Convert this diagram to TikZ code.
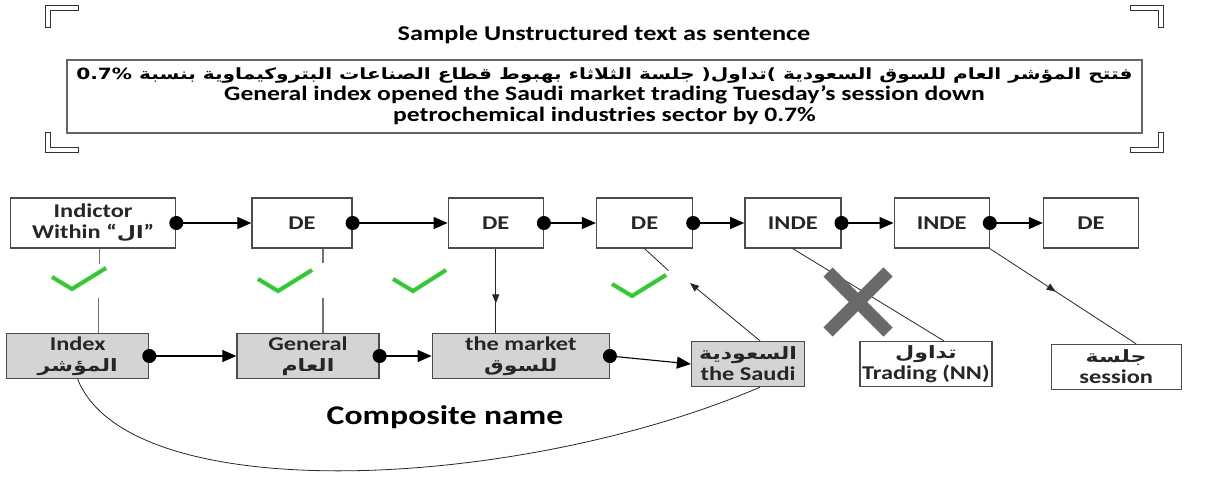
\documentclass[tikz,border=0pt]{standalone}
\usepackage{fontspec}
\setmainfont[FakeStretch=1.25]{Carlito}
\newfontfamily\arabicfont[Script=Arabic, FakeStretch=1.3]{DejaVu Sans}
\TeXXeTstate=1
\usetikzlibrary{positioning,arrows.meta,decorations.markings}
\definecolor{okgreen}{RGB}{45,205,45}
\definecolor{crossgray}{RGB}{105,105,105}
\newcommand{\arab}[1]{{\arabicfont\beginR #1\endR}}

\begin{document}
\begin{tikzpicture}[
        x=1pt, y=-1pt,
        wbox/.style={draw=black!70, line width=1.3pt, fill=white, minimum height=50pt, align=center, inner sep=2pt, text=black!85, font=\fontsize{19.5}{21}\selectfont\bfseries},
        gbox/.style={wbox, fill=black!17, minimum height=45pt},
        link/.style={{Circle[length=14pt]}-{Triangle[length=14pt,width=12pt]}, line width=1.1pt, shorten <=-7pt},
        vline/.style={draw=black!55, line width=1.3pt},
        diag/.style={draw=black!85, line width=0.8pt},
        midarrow/.style={postaction={decorate}, decoration={markings, mark=at position #1 with {\arrow{Triangle[length=9pt,width=7pt]}}}},
        okmark/.style={draw=okgreen, line width=4pt},
        cross/.style={draw=crossgray, line width=13pt},
        bracket/.style={draw=black!80, line width=0.9pt, fill=white}
    ]
    \useasboundingbox (0,0) rectangle (1212,496);

    % corner brackets
    \draw[bracket] (45,5) -- (78,5) -- (78,10) -- (50,10) -- (50,27) -- (45,27) -- cycle;
    \draw[bracket] (1163,5) -- (1130,5) -- (1130,10) -- (1158,10) -- (1158,27) -- (1163,27) -- cycle;
    \draw[bracket] (45,152) -- (78,152) -- (78,147) -- (50,147) -- (50,132) -- (45,132) -- cycle;
    \draw[bracket] (1163,152) -- (1130,152) -- (1130,147) -- (1158,147) -- (1158,132) -- (1163,132) -- cycle;

    % sentence
    \node[font=\fontsize{21}{24}\selectfont\bfseries] (title) at (604,35) {Sample Unstructured text as sentence};
    \node[draw=black!60, line width=1.6pt, minimum width=1075pt, minimum height=73pt, inner sep=2pt, align=center, font=\fontsize{20.5}{21}\selectfont\bfseries] (sentence) at (604.5,96.5)
        {{\fontsize{15.5}{21}\selectfont\arab{فتتح المؤشر العام للسوق السعودية )تداول( جلسة الثلاثاء بهبوط قطاع الصناعات البتروكيماوية بنسبة \beginL 0.7\%\endL}}\\
         General index opened the Saudi market trading Tuesday's session down\\
         petrochemical industries sector by 0.7\%};

    % top row
    \node[wbox, minimum width=165pt, anchor=west] (indictor) at (10,223) {Indictor\\Within “{\fontsize{17}{20}\selectfont\arab{ال}}”};
    \node[wbox, minimum width=100pt, right=75pt of indictor] (de1) {DE};
    \node[wbox, minimum width=95pt, right=95pt of de1] (de2) {DE};
    \node[wbox, minimum width=96pt, right=52pt of de2] (de3) {DE};
    \node[wbox, minimum width=96pt, right=51pt of de3] (inde1) {INDE};
    \node[wbox, minimum width=95pt, right=52pt of inde1] (inde2) {INDE};
    \node[wbox, minimum width=95pt, right=53pt of inde2] (de4) {DE};

    % bottom row
    \node[gbox, minimum width=142pt, anchor=west] (index) at (6,356) {Index\\{\fontsize{17}{20}\selectfont\arab{المؤشر}}};
    \node[gbox, minimum width=142pt, right=87pt of index] (general) {General\\{\fontsize{17}{20}\selectfont\arab{العام}}};
    \node[gbox, minimum width=177pt, right=52pt of general] (market) {the market\\{\fontsize{17}{20}\selectfont\arab{للسوق}}};
    \node[gbox, minimum width=113pt, right=81pt of market, yshift=-8pt] (saudi) {{\fontsize{17}{20}\selectfont\arab{السعودية}}\\the Saudi};
    \node[wbox, minimum width=132pt, minimum height=45pt, right=54pt of saudi] (trading) {{\fontsize{17}{20}\selectfont\arab{تداول}}\\Trading (NN)};
    \node[wbox, minimum width=130pt, minimum height=45pt, right=58pt of trading, yshift=-3pt] (session) {{\fontsize{17}{20}\selectfont\arab{جلسة}}\\session};

    \node[font=\fontsize{27}{30}\selectfont\bfseries] (compname) at (445,417) {Composite name};

    % chain arrows
    \draw[link] (indictor.east) -- (de1.west);
    \draw[link] (de1.east) -- (de2.west);
    \draw[link] (de2.east) -- (de3.west);
    \draw[link] (de3.east) -- (inde1.west);
    \draw[link] (inde1.east) -- (inde2.west);
    \draw[link] (inde2.east) -- (de4.west);
    \draw[link] (index.east) -- (general.west);
    \draw[link] (general.east) -- (market.west);
    \draw[link] (market.east) -- (saudi.west);

    % links between rows
    \draw[vline] ([xshift=6pt]indictor.south) -- ++(0,15);
    \draw[vline] ([xshift=21pt]index.north) -- ++(0,-35);
    \draw[okmark] (52,277) -- (72,289) -- (106,268);

    \draw[vline] ([xshift=21pt]de1.south) -- ++(0,14);
    \draw[vline] ([xshift=15pt]general.north) -- ++(0,-35);
    \draw[okmark] (258,279) -- (278,291) -- (312,270);

    \draw[diag, midarrow=0.65] (de2.south) -- (de2.south |- market.north);
    \draw[okmark] (393,279) -- (413,291) -- (446,270);

    \draw[diag] (de3.south) -- ++(24,22);
    \draw[okmark] (612,284) -- (632,296) -- (666,275);
    \coordinate (saudihead) at (690,283);
    \draw[diag, -{Triangle[length=9pt,width=7pt]}] ([xshift=12pt]saudi.north) -- (saudihead);

    \draw[diag] (inde1.south) -- ([xshift=18pt]trading.north);
    \draw[cross] (828,272) -- (888,332) (888,272) -- (828,332);

    \draw[diag, midarrow=0.45] (inde2.south east) -- ([xshift=20pt]session.north);

    % composite name curve
    \draw[diag] (index.south) .. controls (130,510) and (520,490) .. ([xshift=12pt]saudi.south);

\end{tikzpicture}
\end{document}
